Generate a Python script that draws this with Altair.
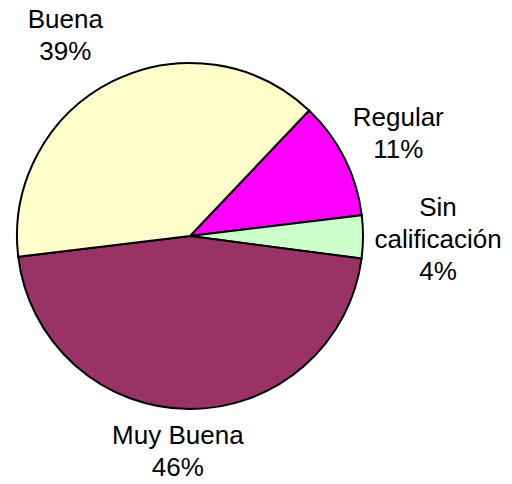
import math
import altair as alt
import pandas as pd

categories = ["Regular", "Sin calificación", "Muy Buena", "Buena"]
label_lines = ["Regular", "Sin\ncalificación", "Muy Buena", "Buena"]
percent = [11, 4, 46, 39]
colors = ["#FF00FF", "#CCFFCC", "#993366", "#FFFFCC"]

df = pd.DataFrame({"cat": categories, "lines": label_lines, "value": percent, "idx": list(range(len(categories)))})

start = math.radians(43.5)
theta_scale = alt.Scale(domain=[0, 100], range=[start, start + 2 * math.pi])
CX, CY, R = 182, 228, 173

base = alt.Chart(df).transform_window(
    cum="sum(value)", sort=[alt.SortField("idx")], frame=[None, 0]
).transform_calculate(
    t0="datum.cum - datum.value",
    tm="datum.cum - datum.value / 2",
    txt="datum.lines + '\\n' + datum.value + '%'",
)

arcs = base.mark_arc(outerRadius=R, stroke="black", strokeWidth=2).encode(
    theta=alt.Theta("t0:Q", scale=theta_scale),
    theta2="cum:Q",
    color=alt.Color("cat:N", scale=alt.Scale(domain=categories, range=colors), legend=None),
    x=alt.value(CX),
    y=alt.value(CY),
)

label_place = {
    "Buena": (234, -19.5, -7),
    "Regular": (232, 1, -14),
    "Sin calificación": (248, 0, -29),
    "Muy Buena": (217, -11, -17),
}

texts = []
for c in categories:
    r, dx, dy = label_place[c]
    texts.append(
        base.transform_filter(alt.datum.cat == c)
        .mark_text(radius=r, dx=dx, dy=dy, fontSize=26, font="Liberation Sans",
                   lineBreak="\n", lineHeight=32, align="center", baseline="middle", color="black")
        .encode(
            theta=alt.Theta("tm:Q", scale=theta_scale),
            text="txt:N",
            x=alt.value(CX),
            y=alt.value(CY),
        )
    )

chart = alt.layer(arcs, *texts).properties(
    width=496, height=468, padding=0, autosize="none"
).configure_view(stroke=None)

chart.save("out.html", embed_options={"renderer": "svg", "actions": False})
